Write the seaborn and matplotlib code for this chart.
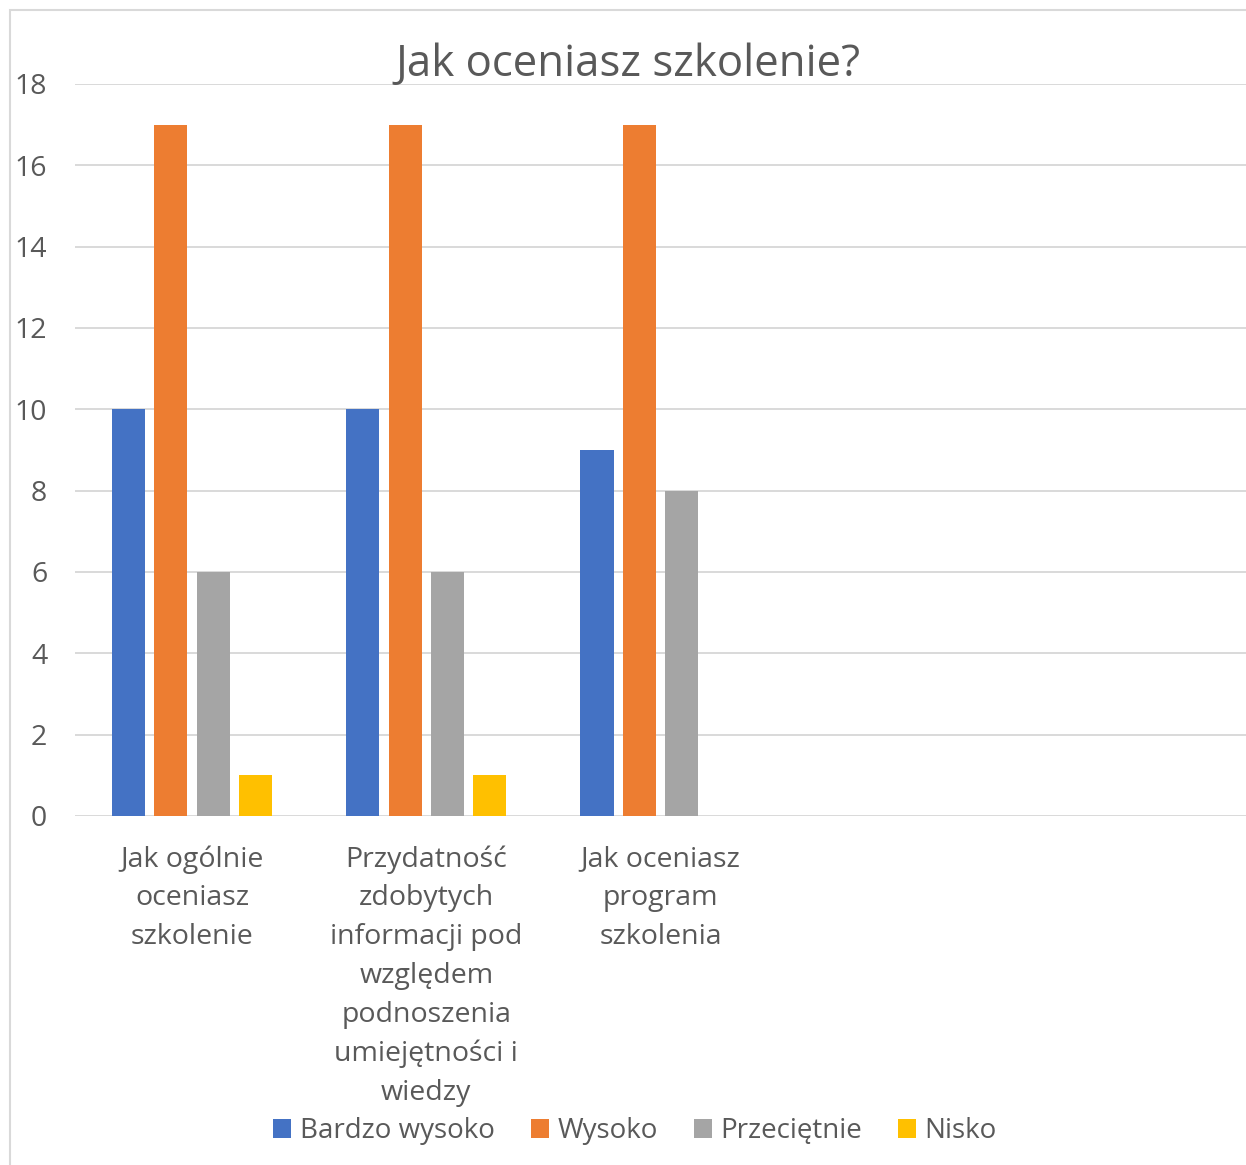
import pandas as pd
import matplotlib
matplotlib.use("Agg")
import matplotlib.pyplot as plt
from matplotlib.patches import Rectangle
import seaborn as sns

# data
categories = [
    "Jak ogólnie\noceniasz\nszkolenie",
    "Przydatność\nzdobytych\ninformacji pod\nwzględem\npodnoszenia\numiejętności i\nwiedzy",
    "Jak oceniasz\nprogram\nszkolenia",
]
series = ["Bardzo wysoko", "Wysoko", "Przeciętnie", "Nisko"]
bardzo_wysoko = [10, 10, 9]
wysoko = [17, 17, 17]
przecietnie = [6, 6, 8]
nisko = [1, 1, 0]
colors = ["#4472C4", "#ED7D31", "#A5A5A5", "#FFC000"]
yticks = [0, 2, 4, 6, 8, 10, 12, 14, 16, 18]

rows = []
for s, vals in zip(series, [bardzo_wysoko, wysoko, przecietnie, nisko]):
    for c, v in zip(categories, vals):
        rows.append({"kategoria": c, "seria": s, "wartosc": v})
df = pd.DataFrame(rows)

sns.set_theme(style="white")
plt.rcParams["font.family"] = ["Open Sans", "DejaVu Sans"]
text_col = "#595959"
grid_col = "#D9D9D9"

W, H = 1246, 1165
fig = plt.figure(figsize=(W / 100, H / 100), dpi=100)
ax = fig.add_axes([75 / W, 1 - 816 / H, 1 - 75 / W, (816 - 84) / H])

sns.barplot(data=df, x="kategoria", y="wartosc", hue="seria",
            order=categories, hue_order=series, palette=colors,
            width=0.723, gap=0.22, saturation=1, linewidth=0, ax=ax)

ax.set_xlim(-0.5, 4.5)
ax.set_ylim(0, 18)
ax.set_yticks(yticks)
ax.set_xlabel("")
ax.set_ylabel("")
ax.grid(axis="y", color=grid_col, linewidth=1.4, zorder=0)
ax.set_axisbelow(True)
for sp in ax.spines.values():
    sp.set_visible(False)
ax.tick_params(axis="y", length=0, pad=20, labelsize=20.5, labelcolor=text_col)
ax.tick_params(axis="x", length=0, pad=21, labelsize=20.5, labelcolor=text_col)
for lab in ax.get_xticklabels():
    lab.set_linespacing(1.51)
    lab.set_va("top")

handles, labels = ax.get_legend_handles_labels()
ax.get_legend().remove()
fig.legend(handles, labels, loc="center", bbox_to_anchor=(635 / W, 1 - 1131 / H),
           ncol=4, frameon=False, fontsize=20, labelcolor=text_col,
           handlelength=0.65, handleheight=0.65, handletextpad=0.3,
           columnspacing=1.3)

fig.text(628 / W, 1 - 65 / H, "Jak oceniasz szkolenie?", ha="center", va="center",
         fontsize=31.5, color=text_col)

fig.add_artist(Rectangle((10 / W, -0.05), 1.2, 1 - 10 / H + 0.05,
                         transform=fig.transFigure, fill=False,
                         edgecolor=grid_col, linewidth=1.5))

fig.savefig("out.png", dpi=100)
